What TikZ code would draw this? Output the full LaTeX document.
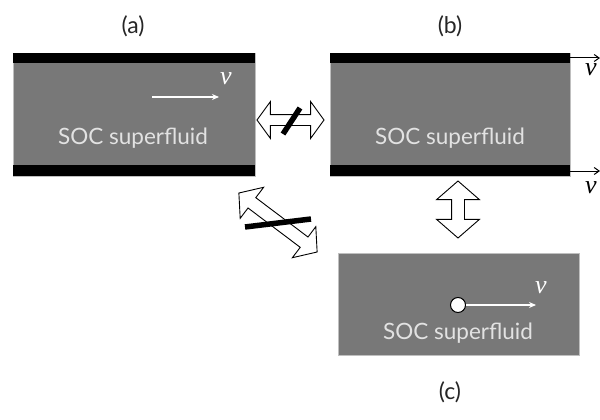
\documentclass[tikz,border=0pt]{standalone}
\usepackage{fontspec}
\setmainfont{Lato}
\newfontfamily\vfont{Liberation Serif}
\usetikzlibrary{shapes.arrows,arrows.meta}
\definecolor{fluid}{HTML}{787878}
\definecolor{txtgray}{HTML}{E2E2E2}
\begin{document}
\begin{tikzpicture}[x=1pt,y=-1pt,
  panel/.style={fill=fluid,draw=black!25,line width=0.6pt},
  wall/.style={fill=black},
  lbl/.style={font=\fontsize{23}{26}\selectfont,text=black!85,inner sep=0pt},
  soc/.style={font=\fontsize{22.5}{26}\selectfont,text=txtgray,inner sep=0pt},
  vel/.style={font=\fontsize{26}{28}\vfont\itshape,inner sep=0pt},
  darrow/.style={shape=double arrow,draw=black,fill=white,line width=0.9pt,inner sep=0pt,minimum width=0pt},
  slash/.style={line width=5.5pt,line cap=butt}]
\useasboundingbox (0,0) rectangle (600,420);
% panel (a)
\node[lbl] (la) at (133,26) {(a)};
\path[panel] (13,53) rectangle (255,176);
\path[wall] (13,53) rectangle (255,63);
\path[wall] (13,165) rectangle (255,176);
\node[soc] (ta) at (133,138) {SOC superfluid};
\coordinate (a1) at (152,97);
\coordinate (a2) at (219,97);
\draw[white,line width=1.4pt,-{Stealth[length=7pt,width=6pt]}] (a1) -- (a2);
\node[vel,text=white] (va) at (226,79) {v};
% panel (b)
\node[lbl] (lb) at (450,26) {(b)};
\path[panel] (330,53) rectangle (570,176);
\path[wall] (330,53) rectangle (570,63);
\path[wall] (330,165) rectangle (570,176);
\node[soc] (tb) at (450,138) {SOC superfluid};
\coordinate (b1) at (570,58);
\coordinate (b2) at (600,58);
\coordinate (b3) at (570,171);
\coordinate (b4) at (600,171);
\draw[black,line width=1pt,-{Straight Barb[length=5pt,width=7pt]}] (b1) -- (b2);
\draw[black,line width=1pt,-{Straight Barb[length=5pt,width=7pt]}] (b3) -- (b4);
\node[vel] (vb1) at (591,70) {v};
\node[vel] (vb2) at (591,188) {v};
% panel (c)
\path[panel] (338,253) rectangle (579,355);
\node[soc] (tc) at (458,333) {SOC superfluid};
\node[circle,draw=black,fill=white,line width=1pt,minimum size=15pt,inner sep=0pt] (vort) at (458,305) {};
\coordinate (c2) at (536,305);
\draw[white,line width=1.4pt,-{Stealth[length=7pt,width=6pt]}] (vort.east) -- (c2);
\node[vel,text=white] (vc) at (541,288) {v};
\node[lbl] (lc) at (450,392) {(c)};
% connecting double arrows
\node[darrow,minimum height=67pt,text height=10pt,double arrow head extend=13pt,double arrow tip angle=108] (hab) at (290.5,120) {};
\coordinate (s1) at (283,134);
\coordinate (s2) at (300,108);
\draw[slash] (s1) -- (s2);
\node[darrow,rotate=90,minimum height=57pt,text height=12pt,double arrow head extend=15pt,double arrow tip angle=98] (vbc) at (458,209.5) {};
\node[darrow,rotate=-37,minimum height=98pt,text height=12pt,double arrow head extend=13pt,double arrow tip angle=100] (dac) at (278,222.5) {};
\coordinate (s3) at (245,227);
\coordinate (s4) at (311,219);
\draw[slash] (s3) -- (s4);
\end{tikzpicture}
\end{document}
